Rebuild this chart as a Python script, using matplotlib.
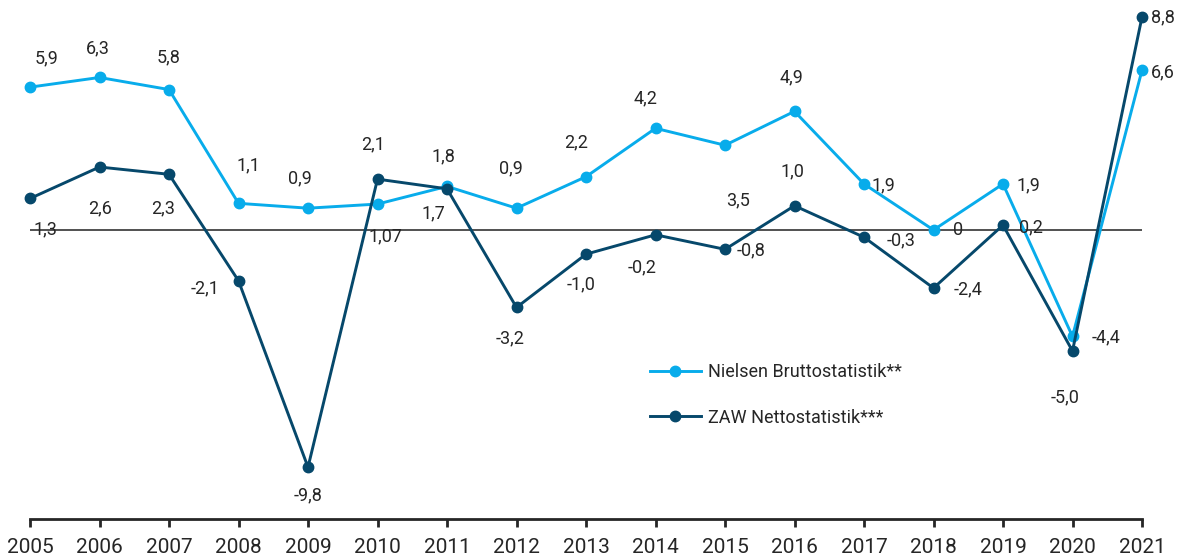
import numpy as np
import matplotlib
matplotlib.use("Agg")
from matplotlib import pyplot as plt

years = list(range(2005, 2022))

nielsen = [5.9, 6.3, 5.8, 1.1, 0.9, 1.07, 1.8, 0.9, 2.2, 4.2, 3.5, 4.9, 1.9, 0.0, 1.9, -4.4, 6.6]
zaw = [1.3, 2.6, 2.3, -2.1, -9.8, 2.1, 1.7, -3.2, -1.0, -0.2, -0.8, 1.0, -0.3, -2.4, 0.2, -5.0, 8.8]

nielsen_labels = ["5,9", "6,3", "5,8", "1,1", "0,9", "1,07", "1,8", "0,9", "2,2",
                  "4,2", "3,5", "4,9", "1,9", "0", "1,9", "-4,4", "6,6"]
zaw_labels = ["1,3", "2,6", "2,3", "-2,1", "-9,8", "2,1", "1,7", "-3,2", "-1,0",
              "-0,2", "-0,8", "1,0", "-0,3", "-2,4", "0,2", "-5,0", "8,8"]

# label offsets in pixels (dx, dy up)
nielsen_off = [(17, 29), (-2, 29), (0, 32), (10, 38), (-8, 30), (8, -32), (-4, 30), (-6, 40),
               (-10, 34), (-10, 30), (13, -55), (-3, 34), (19, -1), (25, 0), (25, -1), (34, -1), (21, -2)]
zaw_off = [(15, -31), (1, -41), (-6, -34), (-33, -8), (0, -28), (-4, 35), (-14, -25), (-6, -31),
           (-5, -30), (-13, -33), (26, -1), (-2, 34), (37, -3), (35, -1), (28, -2), (-7, -46), (21, 0)]

light = "#08aceb"
dark = "#06486b"
txt = "#262626"

plt.rcParams['font.family'] = ['Roboto', 'DejaVu Sans']

fig = plt.figure(figsize=(11.88, 5.59), dpi=100)
ax = fig.add_axes([30 / 1188, 1 - 519 / 559, (1142 - 30) / 1188, 519 / 559])

ax.axhline(0, color="#333333", lw=1.2, zorder=1)
ax.plot(years, nielsen, color=light, lw=2.1, marker="o", ms=7.5, clip_on=False, zorder=3,
        label="Nielsen Bruttostatistik**")
ax.plot(years, zaw, color=dark, lw=2.1, marker="o", ms=7.5, clip_on=False, zorder=4,
        label="ZAW Nettostatistik***")

for x, y, s, o in zip(years, nielsen, nielsen_labels, nielsen_off):
    ax.annotate(s, (x, y), xytext=o, textcoords="offset pixels", ha="center", va="center",
                fontsize=13, color=txt, annotation_clip=False)
for x, y, s, o in zip(years, zaw, zaw_labels, zaw_off):
    ax.annotate(s, (x, y), xytext=o, textcoords="offset pixels", ha="center", va="center",
                fontsize=13, color=txt, annotation_clip=False)

ax.set_xlim(2005, 2021)
ax.set_ylim(-11.94, 9.5)
ax.set_xticks(years)
ax.set_yticks([])
for side in ["top", "right", "left"]:
    ax.spines[side].set_visible(False)
ax.spines["bottom"].set_linewidth(2)
ax.spines["bottom"].set_color("#262626")
ax.tick_params(axis="x", direction="out", length=6, width=2, color="#262626",
               labelsize=15, labelcolor=txt, pad=8)

ax.legend(loc="center left", bbox_to_anchor=(650 / 1188, 1 - 395 / 559),
          bbox_transform=fig.transFigure, frameon=False, fontsize=13,
          handlelength=2.8, handletextpad=0.4, labelspacing=1.5, borderpad=0,
          borderaxespad=0, labelcolor=txt)

fig.savefig("out.png", dpi=100)
